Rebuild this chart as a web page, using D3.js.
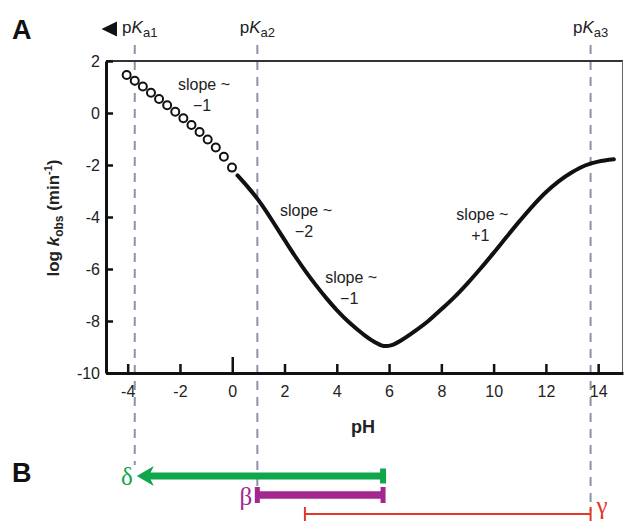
<!DOCTYPE html>
<html>
<head>
<meta charset="utf-8">
<script src="https://cdn.jsdelivr.net/npm/d3@7"></script>
<style>
  body { margin: 0; background: #fff; }
  svg { font-family: "Liberation Sans", Arial, Helvetica, sans-serif; display: block; }
</style>
</head>
<body>
<div class="canvas"></div>
<script>
// data
const pHTicks = [-4, -2, 0, 2, 4, 6, 8, 10, 12, 14];
const logkTicks = [2, 0, -2, -4, -6, -8, -10];

// open circles (measured points)
const circlePH = [-4.04, -3.73, -3.42, -3.11, -2.80, -2.49, -2.18, -1.87, -1.56, -1.25, -0.94, -0.63, -0.32, -0.01];
const circleLogK = [1.46, 1.24, 1.02, 0.78, 0.54, 0.30, 0.05, -0.20, -0.46, -0.73, -1.02, -1.33, -1.68, -2.10];

// solid fitted curve
const curvePH = [0.2, 0.6, 1.0, 1.3, 1.6, 2.0, 2.4, 2.8, 3.2, 3.6, 4.0, 4.5, 5.0, 5.4, 5.8, 6.1, 6.5, 7.0, 7.5, 8.0, 8.5, 9.0, 9.5, 10.0, 10.5, 11.0, 11.5, 12.0, 12.5, 13.0, 13.5, 14.0, 14.6];
const curveLogK = [-2.4, -2.85, -3.35, -3.78, -4.25, -4.88, -5.5, -6.08, -6.62, -7.12, -7.58, -8.08, -8.5, -8.78, -8.96, -8.93, -8.72, -8.38, -8.0, -7.55, -7.08, -6.55, -5.98, -5.38, -4.76, -4.15, -3.57, -3.05, -2.62, -2.28, -2.02, -1.87, -1.78];

const pKaValues = [-3.73, 0.96, 13.71];
const pKaSubs = ['a1', 'a2', 'a3'];

const slopeTexts = ['\u22121', '\u22122', '\u22121', '+1'];
const slopePH = [-1.08, 2.82, 4.55, 9.57];
const slopeLogK = [1.08, -3.76, -6.35, -3.92];

// panel B ranges
const rangeNames = ['\u03b4', '\u03b2', '\u03b3'];
const rangeFrom = [5.77, 0.96, 2.78];
const rangeTo = [-3.65, 5.77, 13.71];
const rangeColors = ['#0fa64c', '#a2278f', '#e4362b'];

const width = 624, height = 523;

const svg = d3.select('.canvas')
  .append('svg')
    .attr('width', width)
    .attr('height', height);

const x = d3.scaleLinear()
  .domain([-4.83, 14.95])
  .range([106, 623]);

const y = d3.scaleLinear()
  .domain([-10, 2])
  .range([373, 61]);

// dashed pKa guides (drawn first, behind everything)
const guideBottom = [465, 497, 511];
svg.selectAll('line.guide')
  .data(pKaValues)
  .enter()
  .append('line')
    .attr('class', 'guide')
    .attr('x1', d => x(d))
    .attr('x2', d => x(d))
    .attr('y1', 45)
    .attr('y2', (d, i) => guideBottom[i])
    .attr('stroke', '#8a93a8')
    .attr('stroke-width', 2)
    .attr('stroke-dasharray', '9,7');

// frame
svg.append('line')
  .attr('x1', x.range()[0]).attr('x2', x.range()[1])
  .attr('y1', y(2)).attr('y2', y(2))
  .attr('stroke', '#333').attr('stroke-width', 2);
svg.append('line')
  .attr('x1', 622.5).attr('x2', 622.5)
  .attr('y1', y(2)).attr('y2', y(-10))
  .attr('stroke', '#666').attr('stroke-width', 1);

// axes
const xAxis = d3.axisBottom(x)
  .tickValues(pHTicks)
  .tickFormat(d => String(d))
  .tickSizeInner(-9)
  .tickSizeOuter(0)
  .tickPadding(13);
const yAxis = d3.axisLeft(y)
  .tickValues(logkTicks)
  .tickFormat(d => String(d))
  .tickSizeInner(-7)
  .tickSizeOuter(0)
  .tickPadding(6);

const xAxisGroup = svg.append('g')
  .attr('transform', `translate(0, ${y(-10)})`)
  .call(xAxis);
const yAxisGroup = svg.append('g')
  .attr('transform', `translate(${x.range()[0]}, 0)`)
  .call(yAxis);

[xAxisGroup, yAxisGroup].forEach(g => {
  g.select('.domain').attr('stroke', '#111').attr('stroke-width', 3);
  g.selectAll('.tick line').attr('stroke', '#111').attr('stroke-width', 2.5);
  g.selectAll('.tick text')
    .attr('font-size', 16)
    .attr('font-family', '"Liberation Sans", Arial, sans-serif')
    .attr('fill', '#222');
});
// the 0 tick is drawn longer
xAxisGroup.selectAll('.tick').filter(d => d === 0).select('line').attr('y2', -16);

// axis titles
svg.append('text')
  .attr('x', 363).attr('y', 433)
  .attr('text-anchor', 'middle')
  .attr('font-size', 18).attr('font-weight', 'bold')
  .attr('fill', '#222')
  .text('pH');

const yTitle = svg.append('text')
  .attr('transform', 'translate(59, 218) rotate(-90)')
  .attr('text-anchor', 'middle')
  .attr('font-size', 17).attr('font-weight', 'bold')
  .attr('fill', '#222');
yTitle.append('tspan').text('log ');
yTitle.append('tspan').attr('font-style', 'italic').text('k');
yTitle.append('tspan').attr('font-size', 12).attr('dy', 4).text('obs');
yTitle.append('tspan').attr('dy', -4).text(' (min');
yTitle.append('tspan').attr('font-size', 11).attr('dy', -7).text('-1');
yTitle.append('tspan').attr('dy', 7).text(')');

// fitted curve
const line = d3.line()
  .x((d, i) => x(curvePH[i]))
  .y(d => y(d))
  .curve(d3.curveCatmullRom.alpha(0.5));

svg.append('path')
  .datum(curveLogK)
  .attr('d', line)
  .attr('fill', 'none')
  .attr('stroke', '#111')
  .attr('stroke-width', 4)
  .attr('stroke-linecap', 'round')
  .attr('stroke-linejoin', 'round');

// open circles
svg.selectAll('circle.pt')
  .data(circleLogK)
  .enter()
  .append('circle')
    .attr('class', 'pt')
    .attr('cx', (d, i) => x(circlePH[i]))
    .attr('cy', d => y(d))
    .attr('r', 4)
    .attr('fill', '#fff')
    .attr('stroke', '#111')
    .attr('stroke-width', 2);

// slope annotations
slopeTexts.forEach((t, i) => {
  const g = svg.append('g')
    .attr('transform', `translate(${x(slopePH[i])}, ${y(slopeLogK[i])})`)
    .attr('font-size', 16)
    .attr('fill', '#222')
    .attr('text-anchor', 'middle');
  g.append('text').attr('y', 5).text('slope ~');
  g.append('text').attr('y', 26).attr('x', -2).text(t);
});

// pKa labels
pKaValues.forEach((v, i) => {
  const t = svg.append('text')
    .attr('x', x(v) + (i === 0 ? 5 : 0))
    .attr('y', 33)
    .attr('text-anchor', 'middle')
    .attr('font-size', 17)
    .attr('fill', '#222');
  t.append('tspan').text('p');
  t.append('tspan').attr('font-style', 'italic').text('K');
  t.append('tspan').attr('font-size', 13).attr('dy', 4).text(pKaSubs[i]);
});
// left-pointing triangle before pKa1
svg.append('path')
  .attr('d', 'M101.5,29 L117,21.5 L117,36.5 Z')
  .attr('fill', '#111');

// panel letters
svg.append('text')
  .attr('x', 12).attr('y', 39)
  .attr('font-size', 27).attr('font-weight', 'bold')
  .attr('fill', '#111')
  .text('A');
svg.append('text')
  .attr('x', 12).attr('y', 482)
  .attr('font-size', 27).attr('font-weight', 'bold')
  .attr('fill', '#111')
  .text('B');

// panel B: pH ranges
const rowY = [476, 495, 514];
const barW = [7, 7.5, 2];
const capH = [15, 16, 14];

// delta: arrow to the left
svg.append('line')
  .attr('x1', x(rangeFrom[0])).attr('x2', x(rangeTo[0]) + 12)
  .attr('y1', rowY[0]).attr('y2', rowY[0])
  .attr('stroke', rangeColors[0]).attr('stroke-width', barW[0]);
const tip = x(rangeTo[0]);
svg.append('path')
  .attr('d', `M${tip},${rowY[0]} L${tip + 17},${rowY[0] - 10} L${tip + 12},${rowY[0]} L${tip + 17},${rowY[0] + 10} Z`)
  .attr('fill', rangeColors[0]);
svg.append('rect')
  .attr('x', x(rangeFrom[0]) - 3).attr('y', rowY[0] - capH[0] / 2)
  .attr('width', 6).attr('height', capH[0])
  .attr('fill', rangeColors[0]);

// beta and gamma: bars with caps at both ends
[1, 2].forEach(i => {
  const a = x(rangeFrom[i]), b = x(rangeTo[i]);
  const capW = i === 1 ? 5 : 2;
  svg.append('line')
    .attr('x1', a).attr('x2', b)
    .attr('y1', rowY[i]).attr('y2', rowY[i])
    .attr('stroke', rangeColors[i]).attr('stroke-width', barW[i]);
  [a, b].forEach(px => {
    svg.append('rect')
      .attr('x', px - capW / 2).attr('y', rowY[i] - capH[i] / 2)
      .attr('width', capW).attr('height', capH[i])
      .attr('fill', rangeColors[i]);
  });
});

// greek labels
const labelX = [x(rangeTo[0]) - 4, x(rangeFrom[1]) - 5, x(rangeTo[2]) + 6];
const labelY = [485, 505, 514];
const labelAnchor = ['end', 'end', 'start'];
rangeNames.forEach((n, i) => {
  svg.append('text')
    .attr('x', labelX[i]).attr('y', labelY[i])
    .attr('text-anchor', labelAnchor[i])
    .attr('font-family', '"Liberation Serif", "Times New Roman", serif')
    .attr('font-size', 25)
    .attr('fill', rangeColors[i])
    .text(n);
});
</script>
</body>
</html>
